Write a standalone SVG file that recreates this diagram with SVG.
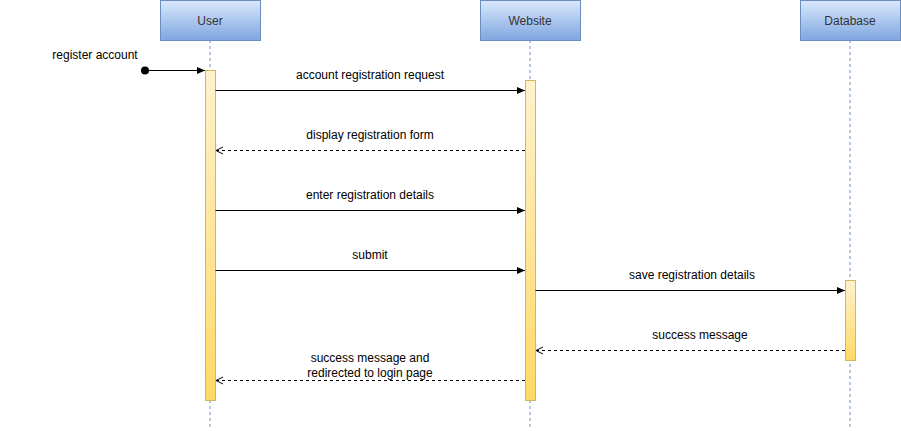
<svg xmlns="http://www.w3.org/2000/svg" width="901" height="431" viewBox="0 0 901 431">
<style>
.hdr{fill:url(#blue);stroke:#6c8ebf;stroke-width:1}
.life{stroke:#6c8ebf;stroke-width:1;stroke-dasharray:3 3;fill:none}
.act{fill:url(#yellow);stroke:#d6b656;stroke-width:1}
.msg{stroke:#000;stroke-width:1;fill:none}
.ret{stroke:#000;stroke-width:1;fill:none;stroke-dasharray:3 3}
text{font-family:"Liberation Sans",Arial,Helvetica,sans-serif;font-size:12px;fill:#000}
.t{text-anchor:middle}
.h{fill:#333;font-size:12px}
</style>
<defs>
<linearGradient id="blue" x1="0" y1="0" x2="0" y2="1"><stop offset="0" stop-color="#dae8fc"/><stop offset="1" stop-color="#7ea6e0"/></linearGradient>
<linearGradient id="yellow" x1="0" y1="0" x2="0" y2="1"><stop offset="0" stop-color="#fff2cc"/><stop offset="1" stop-color="#ffd966"/></linearGradient>
<marker id="block" markerWidth="10" markerHeight="10" refX="9" refY="5" orient="auto" markerUnits="userSpaceOnUse"><path d="M1,1.5 L9,5 L1,8.5 Z" fill="#000"/></marker>
<marker id="open" markerWidth="10" markerHeight="10" refX="9" refY="5" orient="auto" markerUnits="userSpaceOnUse"><path d="M2,1.5 L9,5 L2,8.5" fill="none" stroke="#000"/></marker>
</defs>
<g id="user">
<line class="life" x1="210" y1="40" x2="210" y2="430"/>
<rect class="hdr" x="160.5" y="0.5" width="100" height="40"/>
<text class="t h" x="210" y="24.5">User</text>
<rect class="act" x="205.5" y="70.5" width="10" height="330"/>
</g>
<g id="website">
<line class="life" x1="530" y1="40" x2="530" y2="430"/>
<rect class="hdr" x="480.5" y="0.5" width="100" height="40"/>
<text class="t h" x="530" y="24.5">Website</text>
<rect class="act" x="525.5" y="80.5" width="10" height="320"/>
</g>
<g id="database">
<line class="life" x1="850" y1="40" x2="850" y2="430"/>
<rect class="hdr" x="800.5" y="0.5" width="100" height="40"/>
<text class="t h" x="850" y="24.5">Database</text>
<rect class="act" x="845.5" y="280.5" width="10" height="80"/>
</g>
<g id="connectors">
<circle cx="145" cy="70.5" r="4" fill="#000"/>
<line class="msg" x1="145" y1="70.5" x2="205" y2="70.5" marker-end="url(#block)"/>
<text class="t" x="95" y="59">register account</text>
<line class="msg" x1="215.5" y1="90.5" x2="525" y2="90.5" marker-end="url(#block)"/>
<text class="t" x="370" y="79">account registration request</text>
<line class="ret" x1="525" y1="150.5" x2="216" y2="150.5" marker-end="url(#open)"/>
<text class="t" x="370" y="139">display registration form</text>
<line class="msg" x1="215.5" y1="210.5" x2="525" y2="210.5" marker-end="url(#block)"/>
<text class="t" x="370" y="199">enter registration details</text>
<line class="msg" x1="215.5" y1="270.5" x2="525" y2="270.5" marker-end="url(#block)"/>
<text class="t" x="370" y="259">submit</text>
<line class="msg" x1="535.5" y1="290.5" x2="845" y2="290.5" marker-end="url(#block)"/>
<text class="t" x="692" y="279">save registration details</text>
<line class="ret" x1="845" y1="350.5" x2="536" y2="350.5" marker-end="url(#open)"/>
<text class="t" x="700" y="339">success message</text>
<line class="ret" x1="525" y1="380.5" x2="216" y2="380.5" marker-end="url(#open)"/>
<text class="t" x="370" y="362">success message and</text>
<text class="t" x="370" y="377">redirected to login page</text>
</g>
</svg>
